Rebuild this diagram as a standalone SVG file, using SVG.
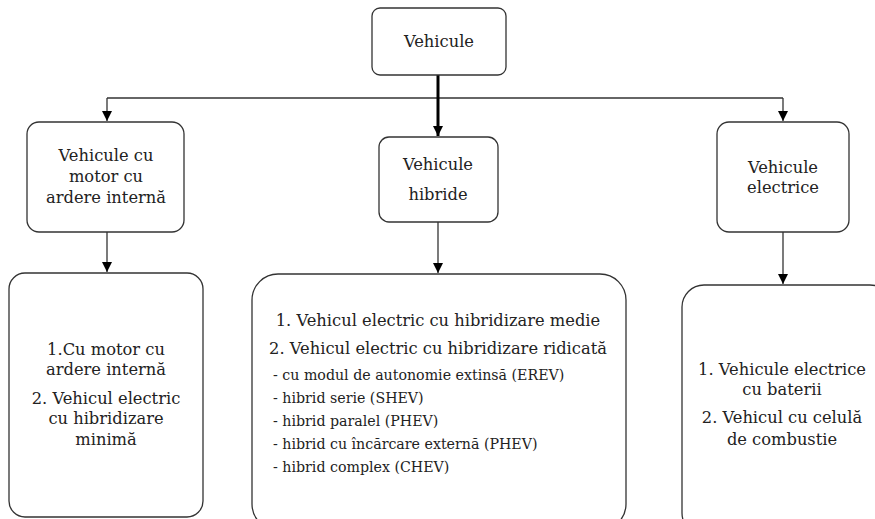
<svg xmlns="http://www.w3.org/2000/svg" width="875" height="519" viewBox="0 0 875 519">
<style>
.box{fill:#fff;stroke:#333;stroke-width:1.3}
.t{font-family:"DejaVu Serif",serif;font-size:16.3px;fill:#222;text-anchor:middle}
.s{font-family:"DejaVu Serif",serif;font-size:14.2px;fill:#222}
.ln{fill:none;stroke:#333;stroke-width:1.3}
</style>
<defs>
<marker id="ah" viewBox="0 0 10 10" refX="10" refY="5" markerWidth="10" markerHeight="12" markerUnits="userSpaceOnUse" orient="auto">
<path d="M0,0 L10,5 L0,10 z" fill="#000"/>
</marker>
<marker id="ahb" viewBox="0 0 10 10" refX="10" refY="5" markerWidth="13" markerHeight="10" markerUnits="userSpaceOnUse" orient="auto">
<path d="M0,0 L10,5 L0,10 z" fill="#000"/>
</marker>
</defs>
<rect width="875" height="519" fill="#fff"/>
<g id="connectors">
<path class="ln" d="M107,98 H783"/>
<path class="ln" d="M107,98 V121" marker-end="url(#ah)"/>
<path class="ln" d="M783,98 V121" marker-end="url(#ah)"/>
<path d="M438,75 V136" fill="none" stroke="#000" stroke-width="3" marker-end="url(#ahb)"/>
<path class="ln" d="M107,232 V272" marker-end="url(#ah)"/>
<path class="ln" d="M438,222 V273" marker-end="url(#ah)"/>
<path class="ln" d="M783,232 V284" marker-end="url(#ah)"/>
</g>
<g id="n-vehicule">
<rect class="box" x="372" y="8" width="134" height="67" rx="8"/>
<text class="t" x="439" y="47">Vehicule</text>
</g>
<g id="n-ardere">
<rect class="box" x="27" y="122" width="157" height="110" rx="12"/>
<text class="t" x="106" y="161">Vehicule cu</text>
<text class="t" x="106" y="182">motor cu</text>
<text class="t" x="106" y="203">ardere internă</text>
</g>
<g id="n-hibride">
<rect class="box" x="379" y="137" width="119" height="85" rx="10"/>
<text class="t" x="438" y="170">Vehicule</text>
<text class="t" x="438" y="200">hibride</text>
</g>
<g id="n-electrice">
<rect class="box" x="717" y="122" width="132" height="110" rx="12"/>
<text class="t" x="783" y="173">Vehicule</text>
<text class="t" x="783" y="193">electrice</text>
</g>
<g id="n-ardere-list">
<rect class="box" x="9" y="273" width="194" height="244" rx="16"/>
<text class="t" x="106" y="355">1.Cu motor cu</text>
<text class="t" x="106" y="375">ardere internă</text>
<text class="t" x="106" y="404">2. Vehicul electric</text>
<text class="t" x="106" y="424">cu hibridizare</text>
<text class="t" x="106" y="445">minimă</text>
</g>
<g id="n-hibride-list">
<rect class="box" x="252" y="274" width="374" height="256" rx="26"/>
<text class="t" x="438" y="326">1. Vehicul electric cu hibridizare medie</text>
<text class="t" x="438" y="354">2. Vehicul electric cu hibridizare ridicată</text>
<text class="s" x="273" y="380">- cu modul de autonomie extinsă (EREV)</text>
<text class="s" x="273" y="403">- hibrid serie (SHEV)</text>
<text class="s" x="273" y="426">- hibrid paralel (PHEV)</text>
<text class="s" x="273" y="449">- hibrid cu încărcare externă (PHEV)</text>
<text class="s" x="273" y="472">- hibrid complex (CHEV)</text>
</g>
<g id="n-electrice-list">
<rect class="box" x="682" y="285" width="210" height="250" rx="22"/>
<text class="t" x="782" y="375">1. Vehicule electrice</text>
<text class="t" x="782" y="395">cu baterii</text>
<text class="t" x="782" y="423">2. Vehicul cu celulă</text>
<text class="t" x="782" y="445">de combustie</text>
</g>
</svg>
